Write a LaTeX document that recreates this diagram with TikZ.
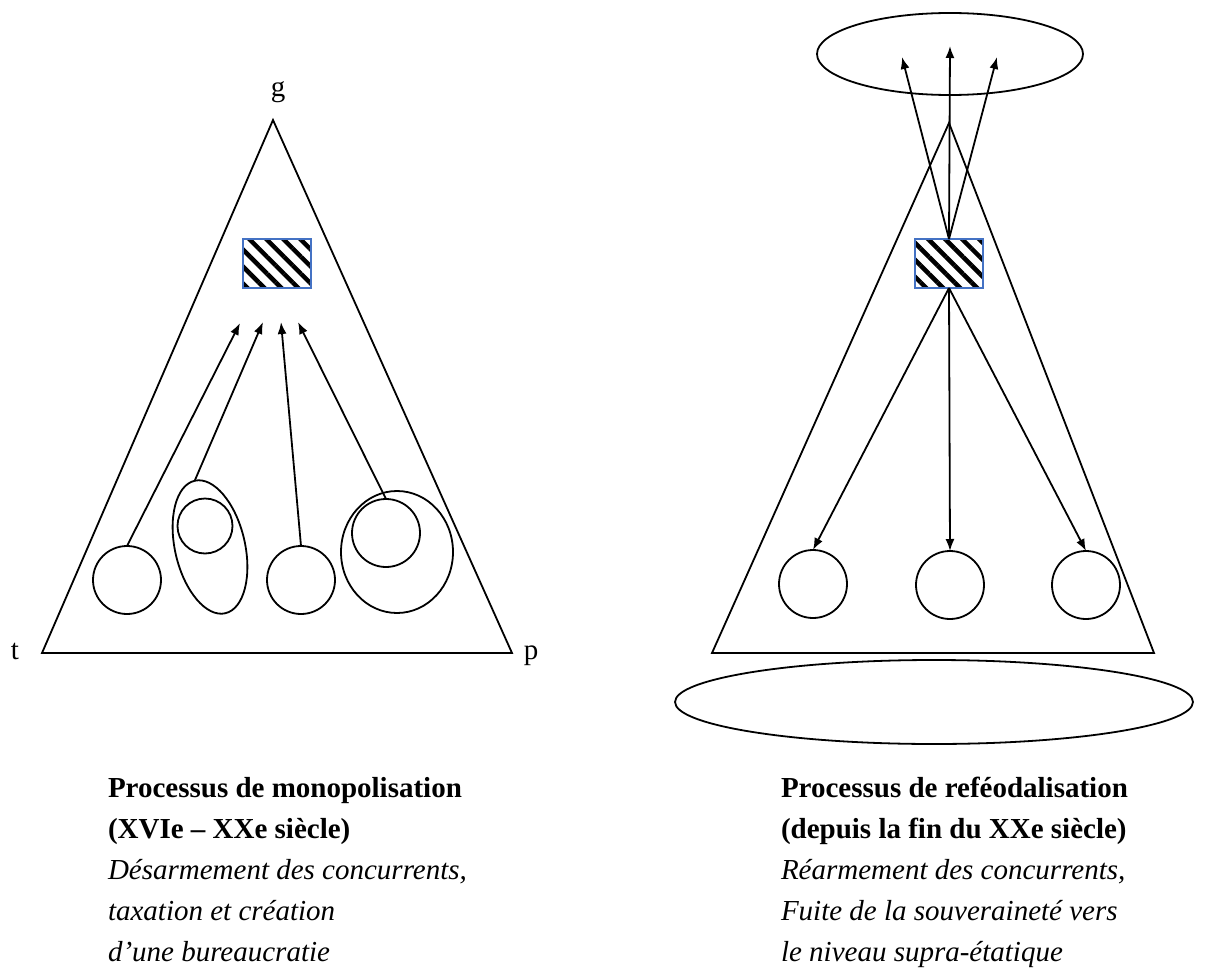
\documentclass[tikz,border=0pt]{standalone}
\usepackage{fontspec}
\setmainfont{Liberation Serif}
\usetikzlibrary{arrows.meta,patterns.meta,shapes.geometric}
\definecolor{rectblue}{HTML}{4472C4}

\begin{document}
\begin{tikzpicture}[x=1pt,y=-1pt,line width=1.8pt,
  every text node part/.style={align=left},
  ring/.style={draw,circle,minimum size=68pt},
  oval/.style={draw,ellipse},
  hatch/.style={draw=rectblue,line width=1.3pt,minimum width=68pt,minimum height=49pt,
    pattern={Lines[angle=-45,distance=12pt,line width=4.5pt]}},
  arr/.style={-{Latex[length=12pt,width=9pt]}},
  lab/.style={font=\fontsize{29}{41}\selectfont}]
\tikzstyle{every node}+=[inner sep=0pt,outer sep=0pt]
\useasboundingbox (0,0) rectangle (1224,974);

\coordinate (lg) at (273,120);
\coordinate (lt) at (42,653);
\coordinate (lp) at (512,653);
\draw (lt) -- (lg) -- (lp) -- cycle;
\node[lab,anchor=base] (g) at (278,96) {g};
\node[lab,anchor=base] (t) at (15,659) {t};
\node[lab,anchor=base] (p) at (531,659) {p};
\node[hatch] (s1) at (277,263.5) {};
\node[ring] (c1) at (127,580) {};
\node[oval,minimum width=70pt,minimum height=136pt,rotate=13] (e2) at (210,547) {};
\node[ring,minimum size=55pt] (c2) at (205,526) {};
\node[ring] (c3) at (301,580) {};
\node[oval,minimum width=112pt,minimum height=122pt] (e4) at (397,552) {};
\node[ring] (c4) at (386,533) {};
\coordinate (a1) at (240,323);
\coordinate (a2) at (263,322);
\coordinate (a3) at (281,322);
\coordinate (a4) at (298,322);
\draw[arr] (c1.north) -- (a1);
\draw[arr] (e2.north) -- (a2);
\draw[arr] (c3.north) -- (a3);
\draw[arr] (c4.north) -- (a4);

\coordinate (rg) at (949,123);
\coordinate (rt) at (712,653);
\coordinate (rp) at (1154,653);
\draw (rt) -- (rg) -- (rp) -- cycle;
\node[oval,minimum width=266pt,minimum height=82pt] (sup) at (950,54) {};
\node[oval,minimum width=518pt,minimum height=84pt] (inf) at (934,702) {};
\node[hatch] (s2) at (949,263.5) {};
\node[ring] (r1) at (813,584) {};
\node[ring] (r2) at (950,585) {};
\node[ring] (r3) at (1086,585) {};
\coordinate (u1) at (902,57);
\coordinate (u2) at (950,46);
\coordinate (u3) at (997,57);
\draw[arr] (s2.north) -- (u1);
\draw[arr] (s2.north) -- (u2);
\draw[arr] (s2.north) -- (u3);
\draw[arr] (s2.south) -- (r1.north);
\draw[arr] (s2.south) -- (r2.north);
\draw[arr] (s2.south) -- (r3.north);

\node[lab,anchor=base west] (txtl) at (108,961) {\textbf{Processus de monopolisation}\\
  \textbf{(XVIe – XXe siècle)}\\\textit{Désarmement des concurrents,}\\
  \textit{taxation et création}\\\textit{d’une bureaucratie}};
\node[lab,anchor=base west] (txtr) at (781,961) {\textbf{Processus de reféodalisation}\\
  \textbf{(depuis la fin du XXe siècle)}\\\textit{Réarmement des concurrents,}\\
  \textit{Fuite de la souveraineté vers}\\\textit{le niveau supra-étatique}};
\end{tikzpicture}
\end{document}
